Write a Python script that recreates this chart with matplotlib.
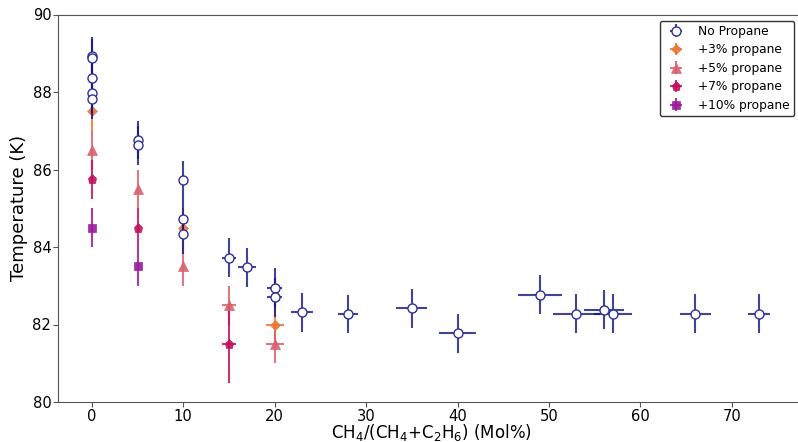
import matplotlib
matplotlib.use("Agg")
import matplotlib.pyplot as plt
from matplotlib.colors import to_rgba

# No propane
np_x = [0, 0, 0, 0, 0, 5, 5, 10, 10, 10, 15, 17, 20, 20, 23, 28, 35, 40, 49, 53, 56, 57, 66, 73]
np_y = [88.92, 88.88, 88.36, 87.97, 87.81, 86.76, 86.62, 85.72, 84.72, 84.33, 83.72, 83.48,
        82.95, 82.7, 82.31, 82.27, 82.42, 81.77, 82.77, 82.28, 82.38, 82.28, 82.28, 82.28]
np_xerr = [0, 0, 0, 0, 0, 0, 0, 0, 0, 0, 0.8, 1.0, 0.8, 0.8, 1.2, 1.1, 1.7, 2.0, 2.4, 2.6, 2.2, 2.1, 1.7, 1.2]
np_yerr = [0.5] * len(np_x)

p3_x = [0, 10, 20]
p3_y = [87.5, 84.5, 82.0]
p3_xerr = [0, 0, 1.0]
p3_yerr = [0.5, 0.5, 0.5]

p5_x = [0, 5, 10, 15, 20]
p5_y = [86.5, 85.5, 83.5, 82.5, 81.5]
p5_xerr = [0, 0, 0, 0.8, 1.0]
p5_yerr = [0.5, 0.5, 0.5, 0.5, 0.5]

p7_x = [0, 5, 15]
p7_y = [85.75, 84.5, 81.5]
p7_xerr = [0, 0, 0.8]
p7_yerr = [0.5, 0.5, 1.0]

p10_x = [0, 5]
p10_y = [84.5, 83.5]
p10_xerr = [0, 0]
p10_yerr = [0.5, 0.5]

labels = ["No Propane", "+3% propane", "+5% propane", "+7% propane", "+10% propane"]

fig = plt.figure(figsize=(7.98, 4.42), dpi=100)
ax = fig.add_axes([58 / 798, 1 - 402 / 442, (804 - 58) / 798, (402 - 14.5) / 442])

ax.errorbar(np_x, np_y, xerr=np_xerr, yerr=np_yerr, fmt='o',
            ecolor=to_rgba('#14147e', 0.8), elinewidth=1.5, markersize=6.5,
            markerfacecolor='white', markeredgecolor='#30309a', markeredgewidth=1.0,
            label=labels[0], zorder=3)
series = [
    (p3_x, p3_y, p3_xerr, p3_yerr, 'D', '#e8783a', 5),
    (p5_x, p5_y, p5_xerr, p5_yerr, '^', '#d9606e', 6.5),
    (p7_x, p7_y, p7_xerr, p7_yerr, 'p', '#c0105e', 6.5),
    (p10_x, p10_y, p10_xerr, p10_yerr, 's', '#9a1a9a', 6),
]
for (x, y, xe, ye, m, c, ms), lab in zip(series, labels[1:]):
    ax.errorbar(x, y, xerr=xe, yerr=ye, fmt=m, color=to_rgba(c, 0.9),
                ecolor=to_rgba(c, 0.85), elinewidth=1.5, markersize=ms,
                markeredgewidth=0.5, label=lab, zorder=2)

ax.set_xlim(-3.7, 77.9)
ax.set_ylim(80, 90)
ax.set_xticks([0, 10, 20, 30, 40, 50, 60, 70])
ax.set_yticks([80, 82, 84, 86, 88, 90])
ax.tick_params(labelsize=10.6, color='#555555', pad=1.3)
for s in ax.spines.values():
    s.set_color('#555555')
ax.set_xlabel(r"CH$_4$/(CH$_4$+C$_2$H$_6$) (Mol%)", fontsize=12, labelpad=-1)
ax.set_ylabel("Temperature (K)", fontsize=13, labelpad=3.5)
leg = ax.legend(loc='upper right', fontsize=8.8, frameon=True, fancybox=True,
                edgecolor='#333333', framealpha=1, handletextpad=0.8,
                borderpad=0.35, labelspacing=0.45, bbox_to_anchor=(0.995, 1.0))

fig.savefig("out.png", dpi=100)
